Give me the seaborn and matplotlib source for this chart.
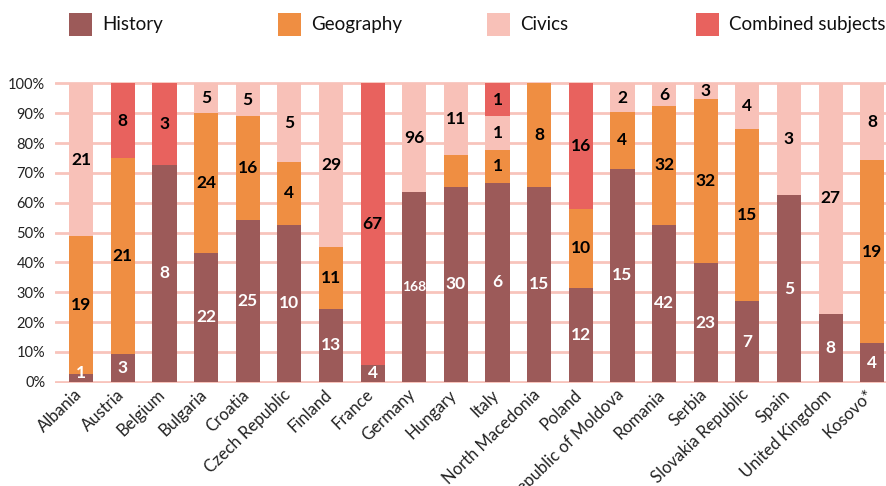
import numpy as np
import pandas as pd
import matplotlib
matplotlib.use("Agg")
import matplotlib.pyplot as plt
import matplotlib.transforms as mtransforms
from matplotlib.patches import Rectangle
import seaborn as sns

countries = ["Albania", "Austria", "Belgium", "Bulgaria", "Croatia", "Czech Republic",
             "Finland", "France", "Germany", "Hungary", "Italy", "North Macedonia",
             "Poland", "Republic of Moldova", "Romania", "Serbia", "Slovakia Republic",
             "Spain", "United Kingdom", "Kosovo*"]
history   = [1, 3, 8, 22, 25, 10, 13, 4, 168, 30, 6, 15, 12, 15, 42, 23, 7, 5, 8, 4]
geography = [19, 21, 0, 24, 16, 4, 11, 0, 0, 5, 1, 8, 10, 4, 32, 32, 15, 0, 0, 19]
civics    = [21, 0, 0, 5, 5, 5, 29, 0, 96, 11, 1, 0, 0, 2, 6, 3, 4, 3, 27, 8]
combined  = [0, 8, 3, 0, 0, 0, 0, 67, 0, 0, 1, 0, 16, 0, 0, 0, 0, 0, 0, 0]
series_names = ["History", "Geography", "Civics", "Combined subjects"]
colors = ["#9C5A59", "#EF8E42", "#F8C1B8", "#E8625E"]
unlabeled = {("Hungary", "Geography")}
yticks = [0, 10, 20, 30, 40, 50, 60, 70, 80, 90, 100]

sns.set_theme(style="white")
plt.rcParams["font.family"] = ["Lato", "DejaVu Sans"]

counts = np.array([history, geography, civics, combined], dtype=float)
totals = counts.sum(axis=0)
pct = counts / totals * 100
cum = np.cumsum(pct, axis=0)

fig = plt.figure(figsize=(8.86, 4.86), dpi=100)
ax = fig.add_axes([0.062, 0.212, 0.938, 0.619])

# draw cumulative bars from top layer down so each overlays the previous
for k in range(3, -1, -1):
    df = pd.DataFrame({"country": countries, "value": cum[k]})
    sns.barplot(data=df, x="country", y="value", order=countries, color=colors[k],
                saturation=1, width=0.58, ax=ax, zorder=2, linewidth=0)

# labels
for k, name in enumerate(["History", "Geography", "Civics", "Combined"]):
    for i, c in enumerate(countries):
        v = counts[k, i]
        if v <= 0 or (c, name) in unlabeled:
            continue
        base = cum[k - 1, i] if k > 0 else 0
        y = base + pct[k, i] / 2
        if k == 0 and y < 3:
            y = 3.0
        col = "white" if k == 0 else "black"
        fs = 10 if v >= 100 else 12.5
        ax.text(i, y, f"{int(v)}", ha="center", va="center", color=col,
                fontsize=fs, fontweight="bold", zorder=5)

ax.set_xlim(-0.63, 19.33)
ax.set_ylim(-0.4, 100.4)
ax.set_yticks(yticks)
ax.set_yticklabels([f"{t}%" for t in yticks], fontsize=10.5, color="#222222")
ax.yaxis.grid(True, color="#F8C4BC", linewidth=2, zorder=0)
ax.set_axisbelow(True)
for s in ax.spines.values():
    s.set_visible(False)
ax.tick_params(axis="both", length=0)
ax.tick_params(axis="y", pad=7)
ax.set_xlabel("")
ax.set_ylabel("")
ax.set_xticks(range(len(countries)))
ax.set_xticklabels(countries, rotation=44, ha="right", rotation_mode="anchor",
                   fontsize=12, color="#222222")
ax.tick_params(axis="x", pad=4)
offset = mtransforms.ScaledTranslation(-5 / 72, 1.5 / 72, fig.dpi_scale_trans)
for lab in ax.get_xticklabels():
    lab.set_transform(lab.get_transform() + offset)

# legend
H = 486.0
W = 886.0
lx = [69, 278, 487, 696]
for x0, name, col in zip(lx, series_names, colors):
    fig.add_artist(Rectangle((x0 / W, (H - 36) / H), 23 / W, 23 / H,
                             transform=fig.transFigure, color=col, linewidth=0))
    fig.text((x0 + 33) / W, (H - 24.5) / H, name, fontsize=13.5, va="center",
             ha="left", color="#111111")

fig.savefig("out.png", dpi=100)
